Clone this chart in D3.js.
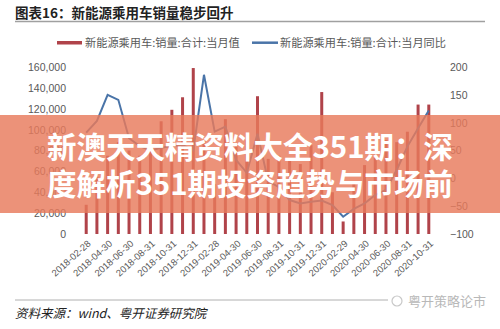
<!DOCTYPE html>
<html>
<head>
<meta charset="utf-8">
<script src="https://cdn.jsdelivr.net/npm/d3@7"></script>
<style>
  body { margin: 0; background: #fff; }
  svg { display: block; font-family: "Noto Sans CJK SC", "Noto Sans", sans-serif; }
</style>
</head>
<body>
<script>
// 月份（2018-02 至 2020-10，月末日期）
const months = [
  '2018-02-28', '2018-03-31', '2018-04-30', '2018-05-31', '2018-06-30', '2018-07-31',
  '2018-08-31', '2018-09-30', '2018-10-31', '2018-11-30', '2018-12-31',
  '2019-01-31', '2019-02-28', '2019-03-31', '2019-04-30', '2019-05-31', '2019-06-30',
  '2019-07-31', '2019-08-31', '2019-09-30', '2019-10-31', '2019-11-30', '2019-12-31',
  '2020-01-31', '2020-02-29', '2020-03-31', '2020-04-30', '2020-05-31', '2020-06-30',
  '2020-07-31', '2020-08-31', '2020-09-30', '2020-10-31'
];
// 当月销量（辆）
const sales = [
  28000, 55000, 75000, 88000, 80000, 75000,
  90000, 108000, 119000, 131000, 159000,
  90000, 48000, 110000, 85000, 90000, 132000,
  72000, 75000, 72000, 67000, 85000, 136000,
  40000, 12000, 48000, 66000, 73000, 90000,
  88000, 98000, 124000, 124000
];
// 当月同比（%）
const yoy = [
  82, 103, 150, 141, 72, 58,
  50, 55, 58, 60, 50,
  186, 84, 93, 33, 10, 80,
  -5, -16, -39, -45, -42, -40,
  -48, -69, -55, -45, -30, -21,
  15, 57, 90, 122
];
const leftTicks = [0, 20000, 40000, 60000, 80000, 100000, 120000, 140000, 160000];
const rightTicks = [-100, -50, 0, 50, 100, 150, 200];
const title = '图表16：新能源乘用车销量稳步回升';
const barName = '新能源乘用车:销量:合计:当月值';
const lineName = '新能源乘用车:销量:合计:当月同比';
const source = '资料来源：wind、粤开证券研究院';
const overlayLines = ['新澳天天精资料大全351期：深', '度解析351期投资趋势与市场前'];

const width = 500;
const height = 329;
const barColor = '#b0434a';
const lineColor = '#4a74a8';
const textColor = '#595959';

const svg = d3.select('body').append('svg')
  .attr('width', width)
  .attr('height', height);

// 标题
svg.append('text')
  .attr('x', 15).attr('y', 18)
  .attr('font-size', 13.5).attr('font-weight', 'bold').attr('fill', '#222')
  .text(title);
svg.append('line')
  .attr('x1', 15).attr('x2', 485).attr('y1', 21.5).attr('y2', 21.5)
  .attr('stroke', '#a0a0a0').attr('stroke-width', 1.5);

// 比例尺
const x = d3.scaleBand().domain(months).range([77, 438]).padding(0.72);
const yL = d3.scaleLinear().domain([0, 160000]).range([234, 67]);
const yR = d3.scaleLinear().domain([-100, 200]).range([234, 67]);

// 坐标轴刻度文字
const axisL = d3.axisLeft(yL).tickValues(leftTicks).tickSize(0).tickPadding(0);
svg.append('g').attr('transform', 'translate(66,0)').call(axisL)
  .call(g => g.select('.domain').remove())
  .selectAll('text').attr('font-size', 10.5).attr('fill', textColor)
  .attr('font-family', 'Liberation Sans, Arial, sans-serif');

const axisR = d3.axisRight(yR).tickValues(rightTicks).tickSize(0).tickPadding(0);
svg.append('g').attr('transform', 'translate(450,0)').call(axisR)
  .call(g => g.select('.domain').remove())
  .selectAll('text').attr('font-size', 10.5).attr('fill', textColor)
  .attr('font-family', 'Liberation Sans, Arial, sans-serif');

const axisB = d3.axisBottom(x).tickValues(months.filter((d, i) => i % 2 === 0)).tickSize(0).tickPadding(0);
svg.append('g').attr('transform', 'translate(0,238)').call(axisB)
  .call(g => g.select('.domain').remove())
  .selectAll('text')
  .attr('font-size', 9.5).attr('fill', textColor)
  .attr('font-family', 'Liberation Sans, Arial, sans-serif')
  .attr('text-anchor', 'end')
  .attr('dy', '0.35em')
  .attr('transform', 'translate(3,4) rotate(-42)');

// 柱
svg.append('g').selectAll('rect')
  .data(months).enter().append('rect')
  .attr('x', d => x(d))
  .attr('width', x.bandwidth())
  .attr('y', (d, i) => yL(sales[i]))
  .attr('height', (d, i) => yL(0) - yL(sales[i]))
  .attr('fill', barColor);

// 同比折线
const line = d3.line()
  .x((d, i) => x(months[i]) + x.bandwidth() / 2)
  .y(d => yR(d));
svg.append('path')
  .datum(yoy)
  .attr('d', line)
  .attr('fill', 'none')
  .attr('stroke', lineColor)
  .attr('stroke-width', 2);

// 图例
const lg = svg.append('g').attr('font-size', 11.2).attr('fill', textColor);
lg.append('rect').attr('x', 57).attr('y', 41).attr('width', 25).attr('height', 3.5).attr('fill', barColor);
lg.append('text').attr('x', 85).attr('y', 46.5).text(barName);
lg.append('line').attr('x1', 252).attr('x2', 278).attr('y1', 42.7).attr('y2', 42.7)
  .attr('stroke', lineColor).attr('stroke-width', 2.5);
lg.append('text').attr('x', 280).attr('y', 46.5).text(lineName);

// 底部来源
svg.append('line')
  .attr('x1', 15).attr('x2', 485).attr('y1', 300).attr('y2', 300)
  .attr('stroke', '#b0b0b0').attr('stroke-width', 1);
svg.append('text')
  .attr('x', 15).attr('y', 318)
  .attr('font-size', 12.5).attr('font-style', 'italic').attr('fill', '#222')
  .text(source);
svg.append('rect').attr('x', 388).attr('y', 293).attr('width', 100).attr('height', 16).attr('fill', '#fff');
svg.append('circle').attr('cx', 397).attr('cy', 301).attr('r', 5)
  .attr('fill', 'none').attr('stroke', '#c8c8c8').attr('stroke-width', 1.2);
svg.append('text')
  .attr('x', 408).attr('y', 306)
  .attr('font-size', 13).attr('fill', '#b8b8b8')
  .text('粤开策略论市');

// 覆盖横幅
svg.append('rect')
  .attr('x', 0).attr('y', 115).attr('width', width).attr('height', 98)
  .attr('fill', 'rgb(232,122,92)').attr('opacity', 0.82);
svg.append('g').selectAll('text')
  .data(overlayLines).enter().append('text')
  .attr('x', 250)
  .attr('y', (d, i) => 158 + i * 37)
  .attr('text-anchor', 'middle')
  .attr('font-size', 29.5).attr('font-weight', 'bold').attr('fill', '#fff')
  .text(d => d);
</script>
</body>
</html>
